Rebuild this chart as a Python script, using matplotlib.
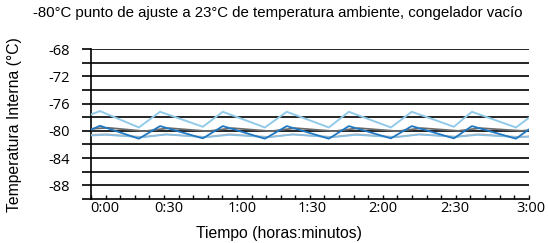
import matplotlib.pyplot as plt
import numpy as np
from matplotlib.ticker import MultipleLocator, FuncFormatter, NullFormatter

# time in minutes
t_top = [0, 3.7, 19.7, 28.4, 46.0, 54.2, 71.5, 80.5, 97.8, 106.0, 123.3, 131.9, 149.2, 156.6, 174.7, 180]
light_blue = [-77.6, -77.1, -79.5, -77.2, -79.4, -77.2, -79.5, -77.2, -79.5, -77.2, -79.5, -77.2, -79.4, -77.2, -79.5, -78.1]
dark_blue = [-79.85, -79.25, -81.15, -79.3, -81.1, -79.3, -81.15, -79.3, -81.15, -79.3, -81.1, -79.3, -81.1, -79.3, -81.15, -79.8]

t_grey = [0, 7, 22, 32, 48, 58, 74, 84, 100, 110, 126, 136, 151, 160, 177, 180]
dark_grey = [-79.7, -79.55, -80.05, -79.6, -80.05, -79.6, -80.05, -79.6, -80.05, -79.6, -80.05, -79.6, -80.0, -79.6, -80.0, -79.9]

t_low = [0, 6, 21, 31, 47, 57, 73, 83, 99, 109, 125, 135, 150, 159, 176, 180]
light_grey = [-80.6, -80.5, -80.9, -80.5, -80.9, -80.5, -80.9, -80.5, -80.9, -80.5, -80.9, -80.5, -80.85, -80.5, -80.9, -80.8]
low_blue = [-80.7, -80.6, -80.95, -80.55, -80.95, -80.6, -80.95, -80.55, -80.95, -80.6, -80.95, -80.55, -80.9, -80.6, -80.95, -80.85]

xlabels = ['0:00', '0:30', '1:00', '1:30', '2:00', '2:30', '3:00']
xlabel_pos = [5.8, 32.2, 62, 90.8, 120, 149.6, 180.8]
yticks = [-88, -84, -80, -76, -72, -68]

fig = plt.figure(figsize=(5.48, 2.43), dpi=100)
ax = fig.add_axes([0.166, 0.181, 0.799, 0.617])

for y in np.arange(-88, -67, 2):
    ax.axhline(y, color='black', lw=1.2, zorder=1)

ax.plot(t_low, light_grey, color='#b4b4b4', lw=1.3, zorder=3)
ax.plot(t_low, low_blue, color='#86c0e6', lw=1.1, zorder=3)
ax.plot(t_grey, dark_grey, color='#6a6a6a', lw=1.3, zorder=3)
ax.plot(t_top, dark_blue, color='#1f78c1', lw=1.3, zorder=4)
ax.plot(t_top, light_blue, color='#92cbea', lw=1.4, zorder=4)

ax.set_xlim(0, 180)
ax.set_ylim(-90, -68)
for s in ['top', 'right']:
    ax.spines[s].set_visible(False)
ax.spines['left'].set_linewidth(1.2)
ax.spines['bottom'].set_linewidth(1.2)

ax.xaxis.set_major_locator(MultipleLocator(30))
ax.xaxis.set_minor_locator(MultipleLocator(6))
ax.xaxis.set_major_formatter(NullFormatter())
ax.tick_params(axis='x', which='both', direction='in', length=3, width=1)
for xp, lab in zip(xlabel_pos, xlabels):
    ax.text(xp, -0.015, lab, transform=ax.get_xaxis_transform(), ha='center', va='top',
            fontsize=10.5, family='Open Sans')

ax.yaxis.set_major_locator(MultipleLocator(2))
ax.yaxis.set_major_formatter(FuncFormatter(lambda v, p: '%d' % v if v in yticks else ''))
ax.tick_params(axis='y', direction='out', length=6.5, width=1.2, pad=9, labelsize=10.5)
for lab in ax.get_yticklabels():
    lab.set_family('Open Sans')

fig.text(0.507, 0.946, '-80°C punto de ajuste a 23°C de temperatura ambiente, congelador vacío',
         ha='center', va='center', fontsize=10.8, family='Liberation Sans')
fig.text(0.509, 0.041, 'Tiempo (horas:minutos)', ha='center', va='center',
         fontsize=11.3, family='Liberation Sans')
fig.text(0.027, 0.488, 'Temperatura Interna (°C)', ha='center', va='center',
         rotation=90, fontsize=11.3, family='Liberation Sans')

fig.savefig('out.png', dpi=100)
